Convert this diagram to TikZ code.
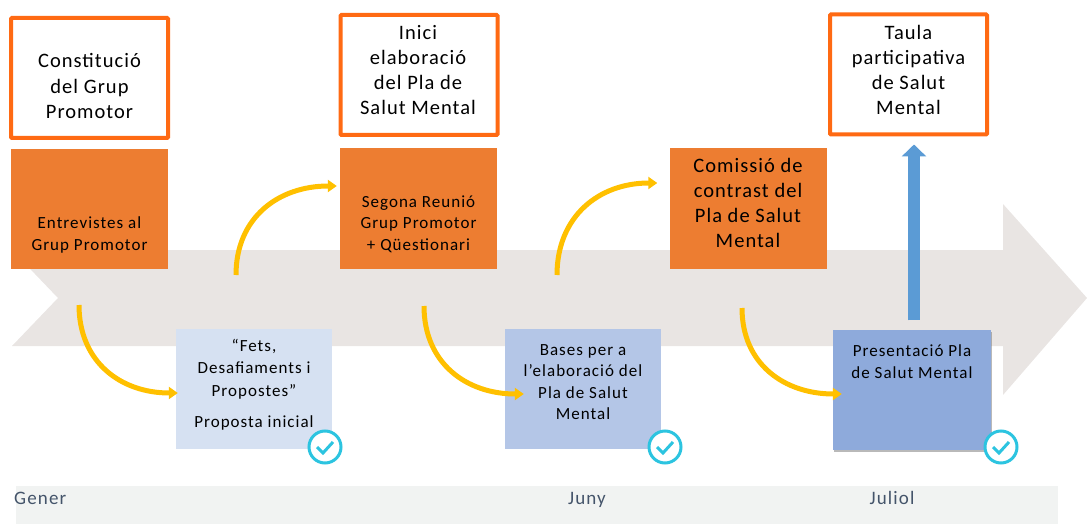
\documentclass[tikz,border=0pt]{standalone}
\usepackage{fontspec}
\setmainfont{Carlito}
\usetikzlibrary{arrows.meta,shadows}
\definecolor{bandgray}{HTML}{E9E5E3}
\definecolor{monthgray}{HTML}{F1F3F2}
\definecolor{hitorange}{HTML}{FF6A13}
\definecolor{boxorange}{HTML}{ED7D31}
\definecolor{curveyellow}{HTML}{FFC000}
\definecolor{checkblue}{HTML}{2CC4E0}
\definecolor{upblue}{HTML}{5B9BD5}
\definecolor{monthtext}{HTML}{44546A}
\definecolor{lowone}{HTML}{D6E1F2}
\definecolor{lowtwo}{HTML}{B4C6E7}
\definecolor{lowthree}{HTML}{8EAADB}
\tikzset{
  hitbox/.style={draw=hitorange,line width=4pt,fill=white,rounded corners=1pt,minimum width=157pt,minimum height=120pt,inner sep=0pt},
  stepbox/.style={fill=boxorange,minimum width=157pt,minimum height=120pt,inner sep=0pt},
  lowbox/.style={minimum width=156pt,minimum height=120pt,inner sep=0pt},
  bigtext/.style={align=center,inner sep=0pt,font=\fontsize{20.5}{25.3}\selectfont\addfontfeature{LetterSpace=5}},
  smalltext/.style={align=center,inner sep=0pt,font=\fontsize{17}{21.5}\selectfont\addfontfeature{LetterSpace=6}},
  monthtag/.style={inner sep=0pt,anchor=base,text=monthtext,font=\fontsize{19}{22}\selectfont\addfontfeature{LetterSpace=6}},
  curvearrow/.style={draw=curveyellow,line width=5pt,-{Triangle[length=9pt,width=12pt]}},
  checkring/.style={circle,draw=checkblue,line width=3pt,fill=white,minimum size=32pt,inner sep=0pt},
}
\begin{document}
\begin{tikzpicture}[x=1pt,y=-1pt]
\useasboundingbox (0,0) rectangle (1087,524);
\fill [bandgray] (12,250) -- (1003,250) -- (1003,204) -- (1087,298) -- (1003,395) -- (1003,346) -- (12,346) -- (58,298) -- cycle;
\fill [monthgray] (16,486) rectangle (1058,524);
\node [monthtag,anchor=base west] (gener) at (14,504) {Gener};
\node [monthtag] (juny) at (587,504) {Juny};
\node [monthtag] (juliol) at (892,504) {Juliol};
\node [hitbox] (constitucio) at (89.5,78) {};
\node [bigtext] (constituciotext) at (89.5,86) {Constitució\\del Grup\\Promotor};
\node [hitbox] (inici) at (419,75) {};
\node [bigtext] (inicitext) at (418,70) {Inici\\elaboració\\del Pla de\\Salut Mental};
\node [hitbox] (taula) at (908.5,74.5) {};
\node [bigtext] (taulatext) at (908.5,70) {Taula\\participativa\\de Salut\\Mental};
\node [stepbox] (entrevistes) at (89.5,209) {};
\node [smalltext] (entrevistestext) at (89.5,235) {Entrevistes al\\Grup Promotor};
\node [stepbox] (segona) at (418.5,208.5) {};
\node [smalltext] (segonatext) at (418.5,224) {Segona Reunió\\Grup Promotor\\+ Qüestionari};
\node [stepbox] (comissio) at (748,208.5) {};
\node [bigtext] (comissiotext) at (748,203) {Comissió de\\contrast del\\Pla de Salut\\Mental};
\node [lowbox,fill=lowone] (fets) at (254,389) {};
\node [smalltext] (fetstext) at (254,369) {“Fets,\\[1pt]Desafiaments i\\[1pt]Propostes”};
\node [smalltext] (propostatext) at (254,423) {Proposta inicial};
\node [lowbox,fill=lowtwo] (bases) at (583,389) {};
\node [smalltext] (basestext) at (583,382) {Bases per a\\l’elaboració del\\Pla de Salut\\Mental};
\node [lowbox,minimum width=158pt,fill=lowthree,drop shadow={shadow xshift=1pt,shadow yshift=-2pt,fill=black!55}] (presentacio) at (912,389.5) {};
\node [smalltext] (presentaciotext) at (912,361.5) {Presentació Pla\\de Salut Mental};
\coordinate (c1) at (79,305);
\coordinate (c2) at (236,275);
\coordinate (c3) at (424,306);
\coordinate (c4) at (557,275);
\coordinate (c5) at (742,308);
\draw [curvearrow] (c1) to [out=-90,in=180,looseness=1.1] ([xshift=2pt]fets.west |- 0,393);
\draw [curvearrow] (c2) to [out=90,in=180,looseness=1.1] ([xshift=-3pt]segona.west |- 0,186);
\draw [curvearrow] (c3) to [out=-90,in=180,looseness=1.1] ([xshift=19pt]bases.west |- 0,394);
\draw [curvearrow] (c4) to [out=90,in=180,looseness=1.1] ([xshift=-12pt]comissio.west |- 0,183);
\draw [curvearrow] (c5) to [out=-90,in=180,looseness=1.1] ([xshift=9pt]presentacio.west |- 0,394);
\draw [upblue,line width=12pt,-{Triangle[length=12pt,width=24pt]}] ([xshift=2pt,yshift=9pt]presentacio.north) -- ([xshift=5.5pt,yshift=-8pt]taula.south);
\foreach \name/\cx in {checkfets/325,checkbases/665,checkpresent/1001} {
  \node [checkring] (\name) at (\cx,447) {};
  \draw [checkblue,line width=3pt] ([shift={(-8pt,0pt)}]\name.center) -- ([shift={(-2pt,-6pt)}]\name.center) -- ([shift={(8pt,5pt)}]\name.center);
}
\end{tikzpicture}
\end{document}
